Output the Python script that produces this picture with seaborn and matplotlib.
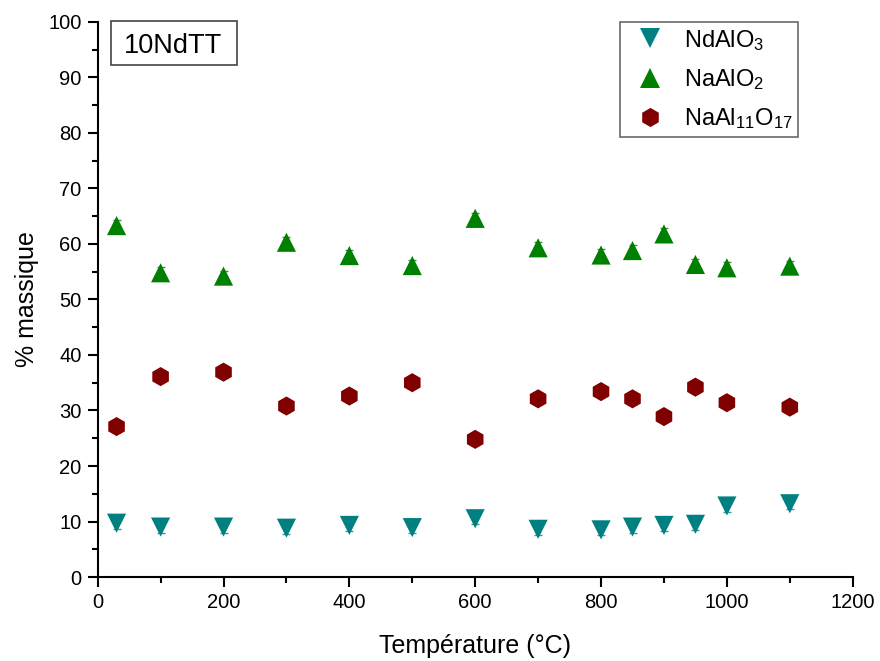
import numpy as np
import pandas as pd
import matplotlib
matplotlib.use("Agg")
import matplotlib.pyplot as plt
import seaborn as sns
from matplotlib.ticker import MultipleLocator
from matplotlib.patches import Rectangle

sns.set_style("ticks")
plt.rcParams["font.family"] = ["Liberation Sans", "DejaVu Sans"]
plt.rcParams["mathtext.default"] = "regular"
plt.rcParams["text.color"] = "black"
plt.rcParams["axes.labelcolor"] = "black"
plt.rcParams["xtick.color"] = "black"
plt.rcParams["ytick.color"] = "black"

# données
temperature = [30, 100, 200, 300, 400, 500, 600, 700, 800, 850, 900, 950, 1000, 1100]
ndalo3 = [9.7, 9.0, 9.0, 8.8, 9.3, 8.9, 10.5, 8.6, 8.5, 9.0, 9.3, 9.5, 12.8, 13.2]
naalo2 = [63.3, 54.8, 54.2, 60.3, 57.9, 56.1, 64.6, 59.3, 58.0, 58.8, 61.8, 56.3, 55.7, 56.0]
naal11o17 = [27.1, 36.1, 36.9, 30.8, 32.6, 35.0, 24.8, 32.1, 33.4, 32.1, 28.9, 34.2, 31.4, 30.6]
erreur = [1.0] * len(temperature)

phases = ["NdAlO$_3$", "NaAlO$_2$", "NaAl$_{11}$O$_{17}$"]
couleurs = ["#008080", "#008000", "#800000"]
marqueurs = ["v", "^", "h"]

df = pd.DataFrame({
    "T": temperature * 3,
    "pct": ndalo3 + naalo2 + naal11o17,
    "phase": [p for p in phases for _ in temperature],
})

fig = plt.figure(figsize=(8.8, 6.61), dpi=100)
ax = fig.add_axes([0.111, 0.127, 0.858, 0.840])

# barres d'erreur
for vals, c in zip([ndalo3, naalo2, naal11o17], couleurs):
    ax.errorbar(temperature, vals, yerr=erreur, fmt="none", ecolor=c,
                elinewidth=1, capsize=3, capthick=1, zorder=2, alpha=0.8)

sns.scatterplot(data=df, x="T", y="pct", hue="phase", style="phase",
                palette=dict(zip(phases, couleurs)),
                markers=dict(zip(phases, marqueurs)),
                s=190, edgecolor="none", ax=ax, zorder=3)

ax.set_xlim(0, 1200)
ax.set_ylim(0, 100)
ax.xaxis.set_major_locator(MultipleLocator(200))
ax.xaxis.set_minor_locator(MultipleLocator(100))
ax.yaxis.set_major_locator(MultipleLocator(10))
ax.yaxis.set_minor_locator(MultipleLocator(5))
ax.tick_params(which="major", length=7.5, width=1.5, labelsize=14.5, pad=4)
ax.tick_params(which="minor", length=4, width=1.5)
for s in ["top", "right"]:
    ax.spines[s].set_visible(False)
for s in ["left", "bottom"]:
    ax.spines[s].set_linewidth(1.5)
    ax.spines[s].set_color("black")

ax.set_xlabel("Température (°C)", fontsize=18, labelpad=16)
ax.set_ylabel("% massique", fontsize=18, labelpad=7)

leg = ax.legend(loc="upper right", fontsize=17, frameon=True, fancybox=False,
                edgecolor="#444444", handlelength=2.0, handletextpad=0.45,
                borderpad=0.25, labelspacing=0.6, borderaxespad=0,
                bbox_to_anchor=(0.928, 1.0))
leg.get_frame().set_linewidth(1.2)

# étiquette de l'échantillon
ax.add_patch(Rectangle((0.0172, 0.9225), 0.1668, 0.0793, transform=ax.transAxes,
                       fc="white", ec="#444444", lw=1.2, zorder=5, clip_on=False))
ax.text(0.100, 0.944, "10NdTT", transform=ax.transAxes, fontsize=19.5,
        va="baseline", ha="center", zorder=6)

fig.savefig("out.png", dpi=100)
